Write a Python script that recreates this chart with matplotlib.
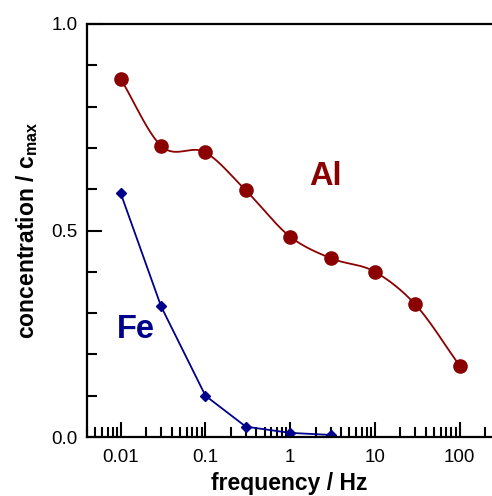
import numpy as np
import matplotlib
matplotlib.use("Agg")
import matplotlib.pyplot as plt
from matplotlib.ticker import FixedLocator, LogLocator, NullFormatter

plt.rcParams['font.family'] = ['Liberation Sans', 'DejaVu Sans']

# data
freq_al = [0.01, 0.03, 0.1, 0.3, 1, 3, 10, 30, 100]
conc_al = [0.867, 0.705, 0.689, 0.597, 0.485, 0.433, 0.400, 0.321, 0.173]
freq_fe = [0.01, 0.03, 0.1, 0.3, 1, 3]
conc_fe = [0.590, 0.316, 0.100, 0.025, 0.010, 0.005]

al_color = '#8b0000'
fe_color = '#00008b'


def smooth(x, y, n=400):
    # cubic Hermite through the points with centred slopes, only for the drawn line
    x = np.asarray(x, float)
    y = np.asarray(y, float)
    h = np.diff(x)
    d = np.diff(y) / h
    m = np.empty_like(y)
    m[1:-1] = (d[:-1] * h[1:] + d[1:] * h[:-1]) / (h[:-1] + h[1:])
    m[0] = d[0]
    m[-1] = d[-1]
    xs = np.linspace(x[0], x[-1], n)
    idx = np.clip(np.searchsorted(x, xs) - 1, 0, len(x) - 2)
    t = (xs - x[idx]) / h[idx]
    h00 = 2 * t**3 - 3 * t**2 + 1
    h10 = t**3 - 2 * t**2 + t
    h01 = -2 * t**3 + 3 * t**2
    h11 = t**3 - t**2
    ys = h00 * y[idx] + h10 * h[idx] * m[idx] + h01 * y[idx + 1] + h11 * h[idx] * m[idx + 1]
    return xs, ys


fig = plt.figure(figsize=(4.92, 4.96), dpi=100)
ax = fig.add_axes([87 / 492, (496 - 437) / 496, (491 - 87) / 492, (437 - 24) / 496])

lx, ly = smooth(np.log10(freq_al), conc_al)
ax.plot(10**lx, ly, color=al_color, lw=1.3)
ax.plot(freq_al, conc_al, 'o', color=al_color, ms=9.5)

ax.plot(freq_fe, conc_fe, '-', color=fe_color, lw=1.3)
ax.plot(freq_fe, conc_fe, 'D', color=fe_color, ms=5.5)

ax.set_xscale('log')
ax.set_xlim(0.004, 235)
ax.set_ylim(0, 1.0)

ax.xaxis.set_major_locator(FixedLocator([0.01, 0.1, 1, 10, 100]))
ax.set_xticklabels(['0.01', '0.1', '1', '10', '100'])
ax.xaxis.set_minor_locator(LogLocator(base=10, subs=np.arange(2, 10), numticks=20))
ax.xaxis.set_minor_formatter(NullFormatter())
ax.yaxis.set_major_locator(FixedLocator([0, 0.5, 1.0]))
ax.set_yticklabels(['0.0', '0.5', '1.0'])
ax.yaxis.set_minor_locator(FixedLocator(np.arange(0.1, 1.0, 0.1)))

ax.tick_params(which='both', direction='in', width=1.5, labelsize=13.5, colors='black')
ax.tick_params(which='major', length=11, pad=7)
ax.tick_params(which='minor', length=7)
ax.tick_params(axis='x', which='major', pad=9)
ax.tick_params(top=False, right=False, which='both')

ax.spines['right'].set_visible(False)
for s in ['left', 'bottom', 'top']:
    ax.spines[s].set_linewidth(1.6)

ax.set_xlabel('frequency / Hz', fontsize=16.5, fontweight='bold', labelpad=4)
ax.set_ylabel(r'concentration / c$_\mathregular{max}$', fontsize=16.5, fontweight='bold', labelpad=8)

ax.text(0.55, 0.63, 'Al', transform=ax.transAxes, color=al_color,
        fontsize=23.5, fontweight='bold', ha='left', va='center')
ax.text(0.075, 0.26, 'Fe', transform=ax.transAxes, color=fe_color,
        fontsize=23.5, fontweight='bold', ha='left', va='center')

fig.savefig('out.png', dpi=100)
